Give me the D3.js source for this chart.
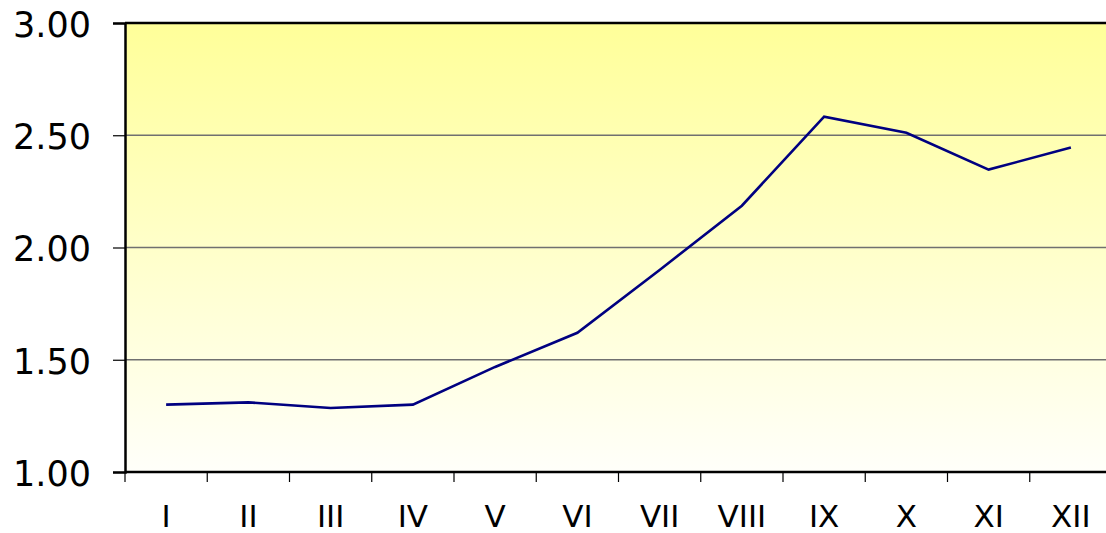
<!DOCTYPE html>
<html><head><meta charset="utf-8">
<script src="https://cdn.jsdelivr.net/npm/d3@7"></script>
<style>html,body{margin:0;padding:0;background:#fff;overflow:hidden}svg{display:block}</style>
</head><body>
<svg id="c" width="1106" height="533"></svg>
<script>
const categories = ["I","II","III","IV","V","VI","VII","VIII","IX","X","XI","XII"];
const values = [1.30, 1.31, 1.285, 1.30, 1.468, 1.62, 1.90, 2.186, 2.583, 2.511, 2.347, 2.445];
const yTicks = [1.00, 1.50, 2.00, 2.50, 3.00];

(function(){
const svg = d3.select("#c");
const pL = 125, pT = 23, pB = 472, pR = 1112;
const x = d3.scaleBand().domain(categories).range([pL, pR]);
const y = d3.scaleLinear().domain([1, 3]).range([pB, pT]);

const defs = svg.append("defs");
const g = defs.append("linearGradient").attr("id","bg").attr("x1",0).attr("y1",0).attr("x2",0).attr("y2",1);
g.append("stop").attr("offset","0%").attr("stop-color","#ffff99");
g.append("stop").attr("offset","100%").attr("stop-color","#fffffa");

svg.append("rect").attr("x",pL).attr("y",pT).attr("width",pR-pL).attr("height",pB-pT).attr("fill","url(#bg)");

svg.append("g").selectAll("line").data(yTicks.filter(d=>d>1 && d<3)).join("line")
  .attr("x1",pL).attr("x2",pR).attr("y1",d=>y(d)).attr("y2",d=>y(d))
  .attr("stroke","#707070").attr("stroke-width",1.6);

svg.append("line").attr("x1",pL).attr("x2",pR).attr("y1",pT).attr("y2",pT).attr("stroke","#000").attr("stroke-width",2.5);

const yAxis = d3.axisLeft(y).tickValues(yTicks).tickFormat(d3.format(".2f")).tickSize(12).tickPadding(22);
const ya = svg.append("g").attr("transform",`translate(${pL},0)`).call(yAxis);
ya.select(".domain").attr("stroke","#000").attr("stroke-width",2.5);
ya.selectAll(".tick line").attr("stroke","#000").attr("stroke-width",1.2);
ya.selectAll(".tick text").attr("font-family","DejaVu Sans, Verdana, sans-serif").attr("font-size",35).attr("fill","#000").attr("dy","0.38em");

const xAxis = d3.axisBottom(x).tickSize(0).tickPadding(33);
const xa = svg.append("g").attr("transform",`translate(0,${pB})`).call(xAxis);
xa.select(".domain").remove();
xa.selectAll(".tick text").attr("font-family","DejaVu Sans, Verdana, sans-serif").attr("font-size",31).attr("fill","#000");
svg.append("line").attr("x1",pL).attr("x2",pR).attr("y1",pB).attr("y2",pB).attr("stroke","#000").attr("stroke-width",2.5);
svg.append("g").selectAll("line").data(categories).join("line")
  .attr("x1",d=>x(d)).attr("x2",d=>x(d)).attr("y1",pB).attr("y2",pB+10)
  .attr("stroke","#000").attr("stroke-width",1.2);

const line = d3.line().x((d,i)=>x(categories[i])+x.bandwidth()/2).y(d=>y(d));
svg.append("path").datum(values).attr("d",line).attr("fill","none").attr("stroke","#000080").attr("stroke-width",2.6);
})();
</script>
</body></html>
